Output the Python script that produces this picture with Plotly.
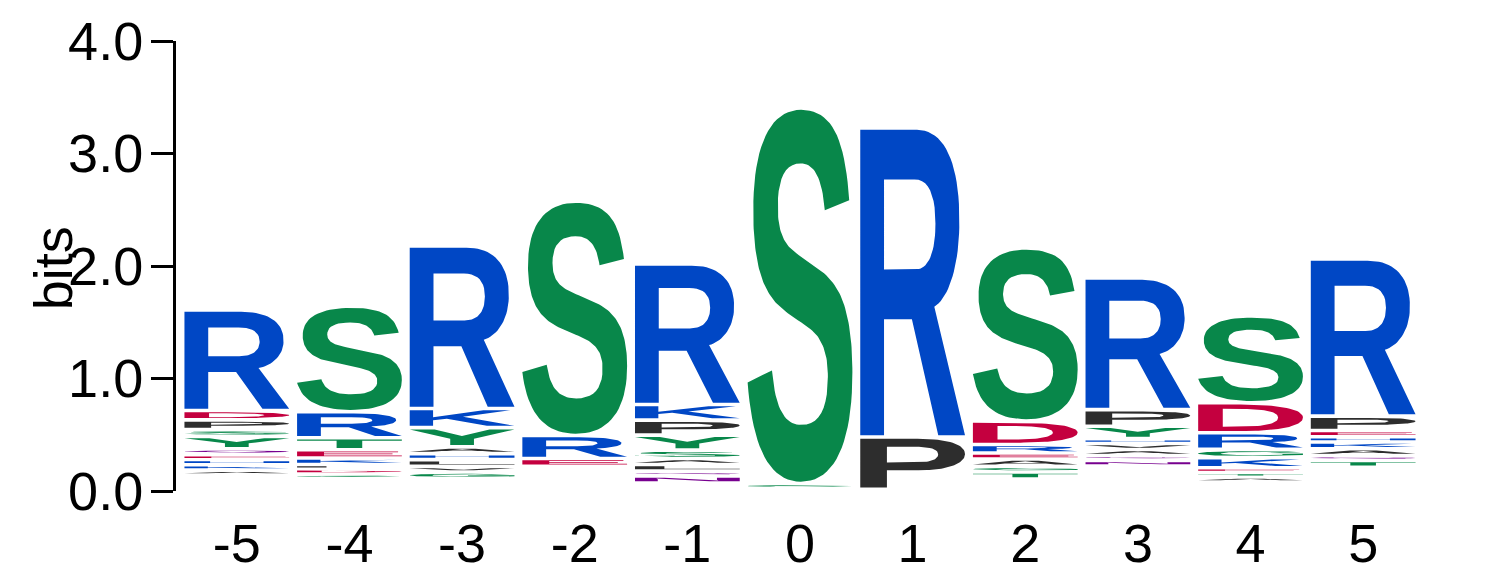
import glob
import struct
import numpy as np
import plotly.graph_objects as go

# sequence positions
positions = [-5, -4, -3, -2, -1, 0, 1, 2, 3, 4, 5]

# residues of each stack, read from the top of the stack down
stack_residues = ["RDPSYQEHKA", "SRTEKLDG", "RKYAHLVG", "SRE", "RKPYSALQN",
                  "SG", "RP", "SDREAGT", "RPYHVAQN", "SDRGKETA", "RPEHKAQT"]

# height (bits) of each residue, same order as stack_residues
stack_bits = [
    [0.894, 0.083, 0.086, 0.060, 0.111, 0.053, 0.042, 0.047, 0.047, 0.044],
    [0.939, 0.231, 0.107, 0.074, 0.057, 0.038, 0.047, 0.044],
    [1.445, 0.171, 0.171, 0.060, 0.053, 0.060, 0.050, 0.059],
    [2.084, 0.204, 0.070],
    [1.250, 0.139, 0.133, 0.133, 0.075, 0.053, 0.059, 0.044, 0.062],
    [3.337, 0.046],
    [2.747, 0.464],
    [1.539, 0.208, 0.076, 0.053, 0.066, 0.050, 0.062],
    [1.170, 0.147, 0.110, 0.044, 0.053, 0.053, 0.044, 0.050],
    [0.773, 0.266, 0.148, 0.074, 0.089, 0.042, 0.041, 0.044],
    [1.397, 0.128, 0.056, 0.047, 0.060, 0.060, 0.044, 0.061],
]

# bits below the lowest visible residue in each stack
stack_floor = [0.126, 0.091, 0.094, 0.203, 0.055, 0.005, 0.0, 0.091, 0.206, 0.064, 0.194]

y_ticks = [0.0, 1.0, 2.0, 3.0, 4.0]

# chemistry colour scheme
colours = {
    "#0047c5": "KRH",
    "#08874a": "GSTYC",
    "#c4003f": "DE",
    "#77008f": "NQ",
    "#2d2d2d": "PAWFLIMV",
}


class Font:
    """tiny TrueType reader, just enough to get simple glyph outlines"""

    def __init__(self, path):
        d = open(path, "rb").read()
        self.d = d
        n = struct.unpack(">H", d[4:6])[0]
        self.tab = {}
        for i in range(n):
            tag, _, off, ln = struct.unpack(">4sIII", d[12 + 16 * i:28 + 16 * i])
            self.tab[tag.decode("latin1")] = off
        head = self.tab["head"]
        loc_fmt = struct.unpack(">h", d[head + 50:head + 52])[0]
        maxp = self.tab["maxp"]
        ng = struct.unpack(">H", d[maxp + 4:maxp + 6])[0]
        lo = self.tab["loca"]
        if loc_fmt == 0:
            self.loca = [2 * v for v in struct.unpack(">%dH" % (ng + 1), d[lo:lo + 2 * (ng + 1)])]
        else:
            self.loca = list(struct.unpack(">%dI" % (ng + 1), d[lo:lo + 4 * (ng + 1)]))
        self.cmap = self.read_cmap()

    def read_cmap(self):
        d = self.d
        off = self.tab["cmap"]
        n = struct.unpack(">H", d[off + 2:off + 4])[0]
        sub = None
        for i in range(n):
            pid, eid, so = struct.unpack(">HHI", d[off + 4 + 8 * i:off + 12 + 8 * i])
            fmt = struct.unpack(">H", d[off + so:off + so + 2])[0]
            if fmt == 4 and (pid == 0 or (pid == 3 and eid == 1)):
                sub = off + so
                break
        seg2 = struct.unpack(">H", d[sub + 6:sub + 8])[0]
        seg = seg2 // 2
        ends = struct.unpack(">%dH" % seg, d[sub + 14:sub + 14 + seg2])
        starts = struct.unpack(">%dH" % seg, d[sub + 16 + seg2:sub + 16 + 2 * seg2])
        deltas = struct.unpack(">%dh" % seg, d[sub + 16 + 2 * seg2:sub + 16 + 3 * seg2])
        rpos = sub + 16 + 3 * seg2
        roffs = struct.unpack(">%dH" % seg, d[rpos:rpos + seg2])
        m = {}
        for code in range(65, 91):
            for i in range(seg):
                if starts[i] <= code <= ends[i]:
                    if roffs[i] == 0:
                        g = (code + deltas[i]) & 0xFFFF
                    else:
                        p = rpos + 2 * i + roffs[i] + 2 * (code - starts[i])
                        g = struct.unpack(">H", d[p:p + 2])[0]
                        if g:
                            g = (g + deltas[i]) & 0xFFFF
                    m[chr(code)] = g
                    break
        return m

    def outline(self, ch, steps=10):
        d = self.d
        g0 = self.tab["glyf"] + self.loca[self.cmap[ch]]
        nc = struct.unpack(">h", d[g0:g0 + 2])[0]
        if nc <= 0:
            return None
        ends = struct.unpack(">%dH" % nc, d[g0 + 10:g0 + 10 + 2 * nc])
        p = g0 + 10 + 2 * nc
        p += 2 + struct.unpack(">H", d[p:p + 2])[0]
        npts = ends[-1] + 1
        flags = []
        while len(flags) < npts:
            f = d[p]
            p += 1
            flags.append(f)
            if f & 8:
                flags.extend([f] * d[p])
                p += 1
        coords = []
        for short, same in ((2, 16), (4, 32)):
            v, out = 0, []
            for f in flags:
                if f & short:
                    dv = d[p]
                    p += 1
                    v += dv if f & same else -dv
                elif not f & same:
                    v += struct.unpack(">h", d[p:p + 2])[0]
                    p += 2
                out.append(v)
            coords.append(out)
        xs, ys = coords
        contours, start = [], 0
        for e in ends:
            pts = [((xs[i], ys[i]), flags[i] & 1) for i in range(start, e + 1)]
            start = e + 1
            contours.append(quad_to_poly(pts, steps))
        return contours


def quad_to_poly(pts, steps):
    n = len(pts)
    exp = []
    for i in range(n):
        (a, oa), (b, ob) = pts[i], pts[(i + 1) % n]
        exp.append((a, oa))
        if not oa and not ob:
            exp.append((((a[0] + b[0]) / 2, (a[1] + b[1]) / 2), 1))
    k = next(i for i, (_, o) in enumerate(exp) if o)
    exp = exp[k:] + exp[:k]
    m = len(exp)
    out = [exp[0][0]]
    i = 0
    ts = np.linspace(0, 1, steps + 1)[1:]
    while i < m:
        p0 = exp[i][0]
        q, oq = exp[(i + 1) % m]
        if oq:
            out.append(q)
            i += 1
        else:
            p2 = exp[(i + 2) % m][0]
            for t in ts:
                out.append(((1 - t) ** 2 * p0[0] + 2 * (1 - t) * t * q[0] + t * t * p2[0],
                            (1 - t) ** 2 * p0[1] + 2 * (1 - t) * t * q[1] + t * t * p2[1]))
            i += 2
    return np.array(out, dtype=float)


def load_glyphs(letters):
    paths = []
    for name in ["LiberationSans-Bold.ttf", "Arial_Bold.ttf", "DejaVuSans-Bold.ttf"]:
        for root in ["/usr/share/fonts", "/usr/local/share/fonts"]:
            paths += glob.glob(root + "/**/" + name, recursive=True)
    font = None
    for path in paths:
        try:
            font = Font(path)
            break
        except Exception:
            font = None
    glyphs = {}
    for ch in set(letters):
        cont = None
        if font is not None:
            try:
                cont = font.outline(ch)
            except Exception:
                cont = None
        if not cont:
            cont = [np.array([[0, 0], [1, 0], [1, 1], [0, 1], [0, 0]], dtype=float)]
        allp = np.vstack(cont)
        lo, hi = allp.min(axis=0), allp.max(axis=0)
        glyphs[ch] = [(c - lo) / (hi - lo) for c in cont]
    return glyphs


glyphs = load_glyphs("".join(stack_residues))
colour_of = {ch: col for col, chars in colours.items() for ch in chars}

half_w = 0.465   # half the letter width, in position units
gap = 0.032      # white space under each letter, in bits

xs = {col: [] for col in colours}
ys = {col: [] for col in colours}
for pos, res, bits, base in zip(positions, stack_residues, stack_bits, stack_floor):
    y0 = base
    for ch, h in zip(reversed(res), reversed(bits)):
        ink = max(h - gap, 0.012)
        col = colour_of[ch]
        for c in glyphs[ch]:
            xs[col] += list(pos - half_w + c[:, 0] * 2 * half_w) + [None]
            ys[col] += list(y0 + (h - ink) + c[:, 1] * ink) + [None]
        y0 += h

fig = go.Figure()
for col in colours:
    fig.add_trace(go.Scatter(x=xs[col], y=ys[col], mode="lines", fill="toself",
                             fillcolor=col, line=dict(width=0, color=col),
                             hoverinfo="skip", showlegend=False))

fig.add_annotation(text="bits", textangle=-90, x=-0.099, y=0.496, xref="paper", yref="paper",
                   xanchor="center", yanchor="middle", showarrow=False,
                   font=dict(size=54, color="black"))

# the page body adds an 8 px offset, so margins are trimmed to match
fig.update_layout(
    width=1486, height=583,
    margin=dict(l=168, r=70, t=33, b=100),
    plot_bgcolor="white", paper_bgcolor="white",
    font=dict(family="Liberation Sans, Arial, sans-serif", size=54, color="black"),
    xaxis=dict(range=[-5.54, 5.54], tickvals=positions, ticktext=[str(p) for p in positions],
               showgrid=False, zeroline=False, showline=False, ticks="",
               ticklabelstandoff=16, tickfont=dict(size=54), automargin=False),
    yaxis=dict(range=[0, 4.0], tickvals=y_ticks, ticktext=["%.1f" % v for v in y_ticks],
               showgrid=False, zeroline=False, showline=True, linecolor="black", linewidth=3,
               ticks="outside", ticklen=22, tickwidth=3, tickcolor="black",
               ticklabelstandoff=-3, tickfont=dict(size=54), automargin=False),
)

fig.write_html("out.html")
